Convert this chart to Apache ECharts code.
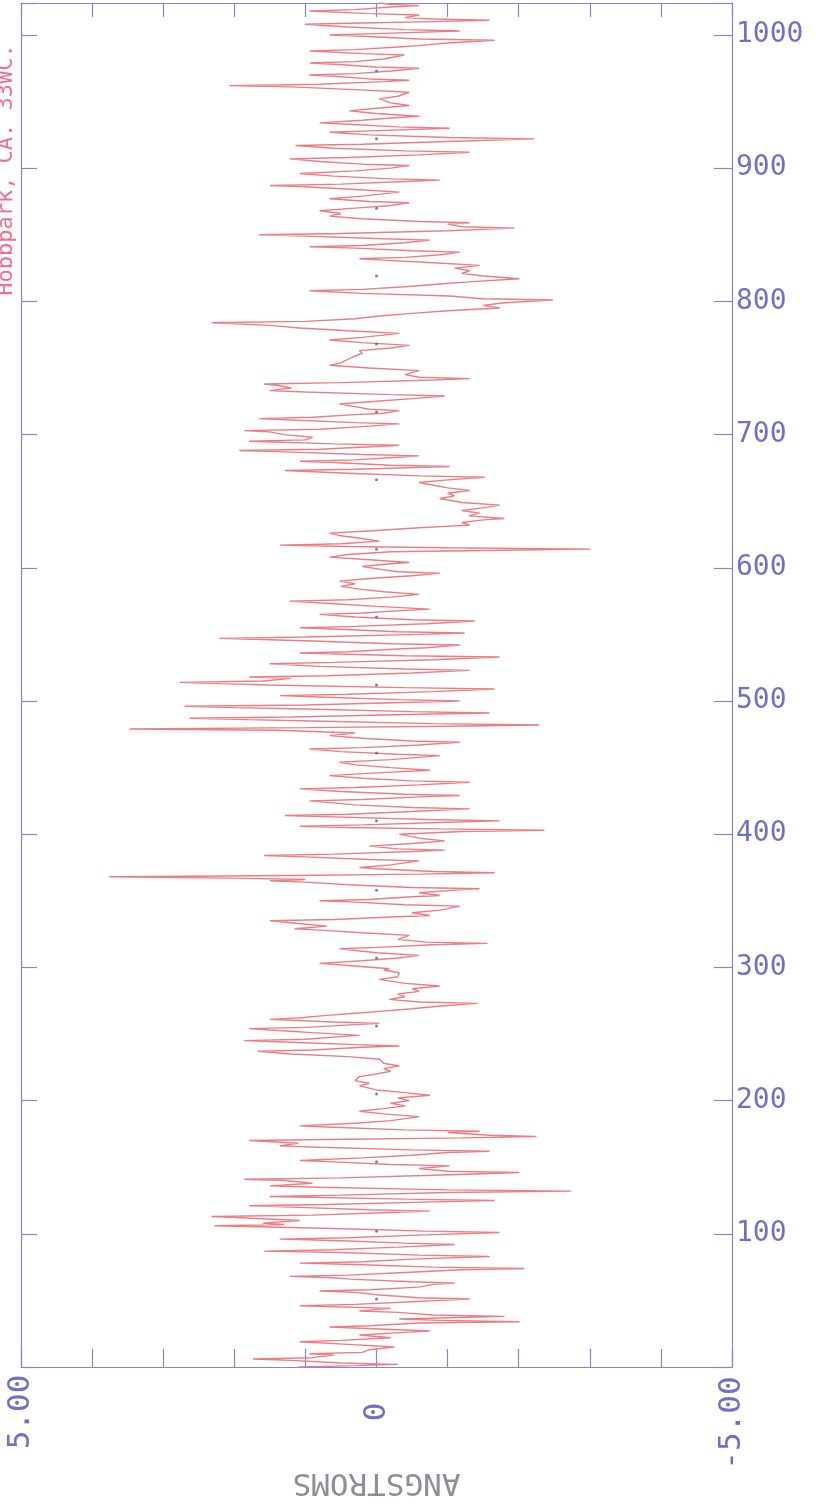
<!DOCTYPE html>
<html>
<head>
<meta charset="utf-8">
<script src="https://cdn.jsdelivr.net/npm/echarts@6/dist/echarts.min.js"></script>
<style>
html,body{margin:0;padding:0;background:#fff;}
#chart{width:824px;height:1504px;}
</style>
</head>
<body>
<div id="chart"></div>
<script>
// Trace: [sample index, deflection in angstroms], one array per 100 samples
const trace000 = [[0,1.1],[1,0.3],[2,-0.3],[3,0.5],[5,1.2],[6,1.74],[7,0.9],[9,0.6],[10,0.94],[11,0.2],[13,0.1],[15,-0.25],[17,0.4],[19,1.08],[20,0.5],[22,-0.2],[24,0.24],[26,-0.4],[27,-0.75],[28,-0.3],[30,0.66],[31,0.1],[33,-0.6],[34,-2.01],[35,-0.9],[36,-0.32],[37,-1.0],[38,-1.80],[39,-0.8],[41,-0.3],[42,0.24],[44,-0.2],[46,1.08],[47,0.3],[49,-0.5],[50,-0.9],[51,-1.31],[52,-0.6],[54,-0.04],[56,0.3],[57,0.80],[58,0.1],[60,-0.6],[62,-0.8],[63,-1.10],[64,-0.5],[66,0.38],[67,0.6],[68,1.22],[69,0.4],[71,-0.4],[73,-1.2],[74,-2.08],[75,-0.8],[77,0.3],[78,1.08],[79,0.2],[81,-0.5],[83,-1.59],[84,-0.6],[86,0.5],[87,1.58],[88,0.6],[90,-0.3],[92,-1.10],[93,-0.4],[95,0.6],[96,1.36],[97,0.4],[99,-0.6],[101,-1.73],[102,-0.7]];
const trace100 = [[104,0.6],[106,2.28],[107,1.3],[108,1.6],[110,1.08],[112,1.9],[113,2.32],[114,0.9],[116,-0.2],[117,-0.75],[118,0.1],[120,1.2],[121,1.79],[122,0.7],[124,-0.8],[125,-1.66],[126,-0.4],[128,1.50],[129,0.5],[131,-1.0],[132,-2.74],[133,-1.0],[135,0.8],[136,1.50],[138,0.9],[140,1.3],[141,1.86],[142,0.5],[144,-0.8],[146,-2.01],[147,-1.0],[149,-0.6],[151,-1.03],[152,-0.2],[154,0.6],[155,1.08],[157,0.2],[159,-0.5],[161,-1.0],[162,-1.59],[163,-0.5],[165,0.8],[166,1.36],[168,1.1],[170,1.79],[171,0.4],[172,-1.2],[173,-2.25],[174,-1.6],[176,-1.0],[177,-1.45],[178,-0.4],[180,0.6],[181,1.08],[183,0.3],[185,-0.2],[188,-0.60],[190,-0.1],[192,0.24],[194,-0.1],[196,-0.4],[198,-0.2],[200,-0.46]];
const trace200 = [[202,-0.3],[204,-0.75],[206,-0.4],[208,0.0],[211,0.24],[213,0.1],[215,0.3],[218,0.24],[220,0.0],[222,-0.2],[224,-0.1],[226,-0.32],[228,-0.1],[231,-0.04],[233,0.4],[235,1.2],[237,1.67],[238,0.9],[240,0.2],[241,-0.32],[242,0.3],[244,1.3],[245,1.86],[246,1.0],[248,0.5],[249,0.24],[251,0.9],[253,1.5],[254,1.79],[255,1.0],[257,0.3],[258,-0.04],[259,0.6],[261,1.50],[262,1.1],[264,0.7],[266,0.2],[267,-0.04],[269,-0.5],[271,-0.9],[273,-1.42],[274,-0.6],[276,-0.18],[278,-0.4],[280,-0.3],[282,-0.60],[284,-0.5],[286,-0.89],[288,-0.4],[291,-0.04],[293,-0.3],[296,-0.32],[298,-0.1],[299,-0.18]];
const trace300 = [[301,0.3],[303,0.80],[305,0.2],[307,-0.3],[309,-0.60],[311,0.0],[314,0.52],[315,0.0],[317,-0.8],[318,-1.56],[319,-0.7],[321,-0.3],[324,-0.46],[326,0.2],[328,0.8],[329,1.15],[331,0.7],[333,1.1],[335,1.50],[336,0.6],[338,-0.3],[339,-0.75],[341,-0.5],[343,-0.9],[346,-1.17],[347,-0.4],[349,0.3],[350,0.80],[351,0.1],[353,-0.5],[354,-0.89],[356,-0.6],[358,-1.1],[359,-1.45],[360,-0.5],[362,0.4],[364,1.0],[365,1.50],[366,1.0],[367,2.0],[368,3.76],[369,1.2],[370,-0.6],[371,-1.66],[372,-0.8],[374,0.0],[375,0.24],[377,-0.2],[380,-0.60],[381,0.1],[383,1.0],[384,1.58],[385,0.6],[387,-0.5],[388,-0.96],[389,-0.3],[391,0.10],[393,-0.5],[395,-0.96],[397,-0.6],[400,-0.32]];
const trace400 = [[402,-1.2],[403,-2.36],[404,-0.9],[405,0.4],[406,1.08],[407,0.2],[409,-1.0],[410,-1.73],[411,-0.7],[413,0.6],[414,1.29],[415,0.4],[417,-0.5],[419,-1.31],[420,-0.5],[422,0.3],[425,0.94],[426,0.2],[428,-0.6],[429,-1.17],[430,-0.4],[432,0.5],[434,1.08],[435,0.3],[437,-0.6],[439,-1.31],[440,-0.5],[442,0.2],[444,0.66],[446,0.0],[448,-0.75],[450,-0.2],[452,0.3],[454,0.52],[456,-0.2],[459,-0.89],[460,-0.3],[462,0.5],[464,0.94],[465,0.2],[467,-0.6],[469,-1.17],[470,-0.5],[472,0.2],[474,0.66],[476,0.3],[478,1.4],[479,3.47],[480,1.0],[481,-1.0],[482,-2.29],[483,-0.8],[485,0.9],[486,1.8],[487,2.63],[488,1.2],[490,-0.6],[491,-1.59],[492,-0.5],[494,1.0],[495,2.0],[496,2.70],[497,1.0],[499,-0.5],[500,-1.17]];
const trace500 = [[501,-0.3],[503,0.8],[504,1.36],[505,0.4],[507,-0.8],[509,-1.66],[510,-0.4],[512,1.5],[513,2.2],[514,2.77],[515,1.6],[517,1.2],[518,1.79],[519,0.7],[521,-0.5],[523,-1.31],[524,-0.4],[526,0.8],[528,1.50],[529,0.6],[531,-0.8],[533,-1.73],[534,-0.4],[536,1.08],[537,0.4],[539,-0.3],[540,-0.7],[542,-1.17],[543,-0.2],[545,0.9],[546,1.5],[547,2.21],[548,1.0],[550,-0.6],[551,-1.24],[552,-0.3],[554,0.6],[555,1.08],[556,0.3],[558,-0.7],[560,-1.38],[561,-0.5],[563,0.3],[565,0.80],[566,0.2],[568,-0.4],[569,-0.75],[571,0.0],[573,0.6],[575,1.22],[576,0.4],[578,-0.2],[580,-0.60],[582,-0.1],[584,0.24],[586,0.5],[588,0.3],[590,0.52],[592,0.1],[594,-0.5],[596,-0.89],[597,-0.3],[599,-0.04]];
const trace600 = [[601,0.2],[603,-0.2],[604,-0.46],[606,0.1],[608,0.66],[610,0.4],[612,-0.2],[613,-1.5],[614,-3.01],[615,-1.0],[616,0.4],[617,1.36],[618,0.5],[620,-0.04],[622,0.2],[624,0.5],[626,0.66],[628,0.0],[630,-0.6],[632,-1.31],[634,-1.2],[636,-1.5],[637,-1.80],[639,-1.3],[641,-1.45],[643,-1.2],[645,-1.5],[647,-1.73],[649,-1.2],[652,-0.89],[654,-1.1],[656,-1.0],[658,-1.31],[660,-1.0],[662,-0.8],[664,-0.60],[666,-1.0],[668,-1.52],[669,-0.6],[671,0.4],[673,1.29],[674,0.3],[676,-1.03],[677,-0.2],[679,0.6],[680,1.08],[681,0.3],[683,-0.3],[684,-0.60],[685,0.2],[687,1.3],[688,1.93],[689,0.8],[691,0.0],[692,-0.32],[693,0.6],[695,1.79],[696,1.0],[698,0.9],[700,1.3]];
const trace700 = [[702,1.5],[703,1.86],[704,0.8],[706,0.2],[708,-0.32],[709,0.3],[711,1.2],[712,1.65],[713,0.9],[715,0.3],[716,-0.1],[718,-0.32],[719,0.1],[721,0.3],[723,0.52],[725,0.0],[727,-0.5],[729,-0.96],[730,-0.2],[732,1.0],[733,1.50],[735,1.2],[737,1.4],[738,1.58],[739,0.5],[741,-0.8],[742,-1.31],[743,-0.6],[745,-0.4],[748,-0.60],[750,0.1],[752,0.66],[754,0.5],[757,0.38],[759,0.3],[761,0.2],[763,0.24],[765,-0.2],[767,-0.46],[769,0.2],[771,0.66],[773,0.2],[776,-0.32],[778,0.4],[780,1.08],[782,1.5],[784,2.32],[785,1.0],[787,0.3],[789,-0.04],[791,-0.5],[793,-1.0],[795,-1.73],[797,-1.5],[799,-1.8],[801,-2.48],[802,-1.5],[804,-1.03]];
const trace800 = [[806,0.2],[808,0.94],[809,0.2],[811,-0.4],[813,-0.89],[815,-1.4],[817,-2.01],[819,-1.5],[821,-1.2],[823,-1.31],[825,-1.1],[827,-1.45],[829,-0.8],[831,-0.1],[832,0.24],[833,-0.4],[835,-0.9],[837,-1.17],[838,-0.5],[840,0.3],[841,0.94],[842,0.2],[844,-0.4],[846,-0.75],[847,-0.1],[849,1.0],[850,1.65],[851,0.5],[853,-1.0],[855,-1.94],[856,-1.2],[858,-1.0],[859,-1.31],[860,-0.6],[862,0.2],[864,0.66],[866,0.5],[868,0.80],[870,0.3],[872,-0.2],[874,-0.46],[875,0.1],[877,0.66],[879,0.2],[882,-0.32],[884,0.3],[886,1.0],[887,1.50],[888,0.5],[890,-0.4],[891,-0.89],[892,-0.2],[894,0.6],[896,1.08],[898,0.3]];
const trace900 = [[900,-0.2],[902,-0.46],[903,0.2],[905,0.8],[907,1.22],[908,0.4],[910,-0.6],[912,-1.31],[913,-0.4],[915,0.6],[917,1.14],[918,0.2],[920,-1.0],[922,-2.22],[923,-1.0],[925,0.1],[927,0.66],[928,0.1],[930,-1.03],[931,-0.3],[933,0.4],[934,0.80],[936,0.2],[938,-0.3],[939,-0.60],[941,0.0],[943,0.38],[945,0.0],[947,-0.46],[949,-0.2],[952,-0.04],[954,-0.3],[957,-0.46],[959,0.3],[961,1.2],[962,2.07],[963,0.8],[965,-0.1],[966,-0.46],[967,0.1],[969,0.6],[970,0.94],[971,0.3],[973,-0.2],[975,-0.60],[976,0.0],[978,0.6],[979,0.94],[980,0.3],[982,-0.1],[985,-0.39],[986,0.2],[988,0.94],[989,0.3],[991,-0.3],[992,-0.60],[994,-1.0],[996,-1.66],[997,-0.6],[999,0.2],[1000,0.66],[1001,0.0],[1003,-1.17],[1004,-0.4],[1006,0.4],[1008,1.01],[1009,0.2],[1010,-0.8],[1011,-1.59],[1012,-0.8],[1013,-0.4],[1015,-0.60],[1016,0.1],[1018,0.94],[1019,0.3],[1021,-0.2],[1022,-0.60],[1023,-0.2],[1024,-0.04]];

// small reference dots on the zero line
const zeroMarks = [51,102,154,205,256,307,358,410,461,512,563,614,666,717,768,819,870,922,973];
// labelled values on the angstrom axis
const angstromLabels = {'5': '5.00', '0': '0', '-5': '-5.00'};
const indexLabels = [100,200,300,400,500,600,700,800,900,1000];
const axisTitle = 'ANGSTROMS';
const sideNote = 'Hobbpark, CA. 33WC.';

const axisColor = '#8686cc';
const labelColor = '#7070c8';
const traceColor = '#ef7c82';
const mono = 'DejaVu Sans Mono';

const chart = echarts.init(document.getElementById('chart'), null, {renderer: 'canvas'});
const traceAll = [].concat(trace000, trace100, trace200, trace300, trace400,
                           trace500, trace600, trace700, trace800, trace900);
// points are [angstrom, sample index] for the horizontal value axis / vertical index axis
const lineData = traceAll.map(p => [p[1], p[0]]);
const dotData = zeroMarks.map(d => [0, d]);

const lineStyleAxis = {color: axisColor, width: 1.2};

chart.setOption({
  animation: false,
  backgroundColor: '#ffffff',
  grid: {left: 21, right: 92, top: 3, bottom: 137, containLabel: false, outerBoundsMode: 'none'},
  xAxis: [
    {
      type: 'value', min: -5, max: 5, interval: 1, inverse: true, position: 'bottom',
      axisLine: {show: true, onZero: false, lineStyle: lineStyleAxis},
      axisTick: {show: true, inside: true, length: 18, lineStyle: lineStyleAxis},
      splitLine: {show: false},
      axisLabel: {
        show: true, rotate: 90, align: 'center', verticalAlign: 'middle', margin: 45,
        color: labelColor, fontFamily: mono, fontSize: 31,
        formatter: v => {
          const s = angstromLabels[String(v)];
          if (!s) return '';
          return s.charAt(0) === '-' ? '{n|' + s + '}' : s;
        },
        rich: {n: {fontFamily: mono, fontSize: 31, color: labelColor, padding: [0, 22, 0, 0]}}
      },
      name: axisTitle, nameLocation: 'middle', nameGap: 100, nameRotate: 180,
      nameMoveOverlap: false,
      nameTextStyle: {color: '#8e8e9a', fontFamily: mono, fontSize: 31}
    },
    {
      type: 'value', min: -5, max: 5, interval: 1, inverse: true, position: 'top',
      axisLine: {show: true, onZero: false, lineStyle: lineStyleAxis},
      axisTick: {show: true, inside: true, length: 14, lineStyle: lineStyleAxis},
      axisLabel: {show: false}, splitLine: {show: false}
    }
  ],
  yAxis: [
    {
      type: 'value', min: 0, max: 1024, interval: 100, position: 'right',
      axisLine: {show: true, onZero: false, lineStyle: lineStyleAxis},
      axisTick: {show: true, inside: true, length: 18, lineStyle: lineStyleAxis},
      splitLine: {show: false},
      axisLabel: {
        show: true, margin: 4, color: labelColor, fontFamily: mono, fontSize: 28,
        formatter: v => indexLabels.indexOf(v) >= 0 ? String(v) : ''
      }
    },
    {
      type: 'value', min: 0, max: 1024, interval: 100, position: 'left',
      axisLine: {show: true, onZero: false, lineStyle: lineStyleAxis},
      axisTick: {show: true, inside: true, length: 16, lineStyle: lineStyleAxis},
      axisLabel: {show: false}, splitLine: {show: false}
    }
  ],
  graphic: [{
    type: 'text', x: 6, y: 170, rotation: Math.PI / 2,
    style: {text: sideNote, fill: '#f0708c', font: '22px "DejaVu Sans Mono"',
            textAlign: 'center', textVerticalAlign: 'middle'}
  }],
  series: [
    {
      type: 'line', xAxisIndex: 0, yAxisIndex: 0, data: lineData,
      showSymbol: false, symbol: 'none', smooth: false,
      lineStyle: {color: traceColor, width: 1.4}, z: 3
    },
    {
      type: 'scatter', xAxisIndex: 0, yAxisIndex: 0, data: dotData,
      symbolSize: 3, itemStyle: {color: '#5a5aa8'}, z: 4
    }
  ]
});
</script>
</body>
</html>
